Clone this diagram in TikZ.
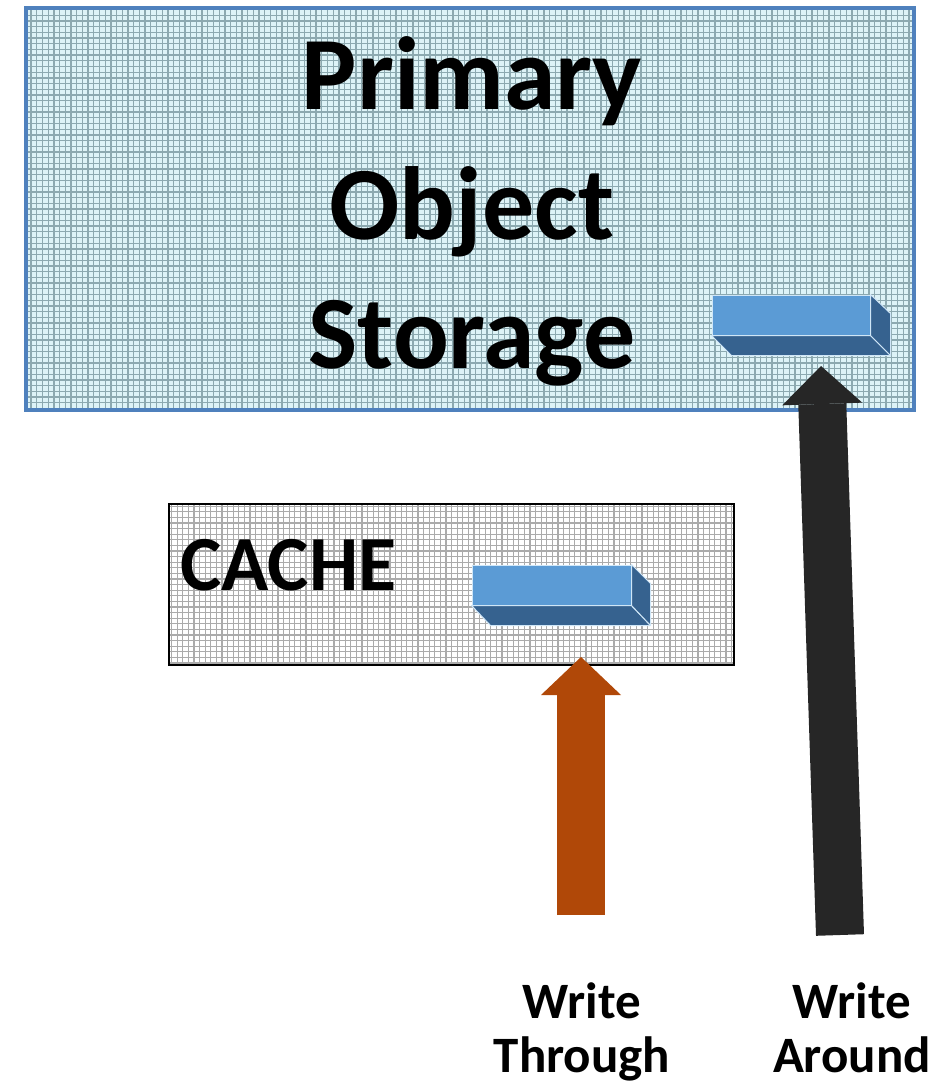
\documentclass[tikz,border=0pt]{standalone}
\usepackage{fontspec}
\setmainfont{Carlito}
\usetikzlibrary{arrows.meta,calc}
\definecolor{storefill}{HTML}{DDF3F7}
\definecolor{storegrid}{HTML}{8CA9B0}
\definecolor{storeborder}{HTML}{4F81BD}
\definecolor{cachegrid}{HTML}{ABABAB}
\definecolor{blkfront}{HTML}{5B9BD5}
\definecolor{blkdark}{HTML}{36628F}
\definecolor{blkedge}{HTML}{CFE6F7}
\definecolor{wtorange}{HTML}{B04808}
\definecolor{wablack}{HTML}{262626}
\begin{document}
\begin{tikzpicture}[x=1pt,y=-1pt,
  storebox/.style={fill=storefill, inner sep=0pt,
    path picture={\draw[storegrid, line width=1.3pt, step=5.7pt]
      (path picture bounding box.south west) grid (path picture bounding box.north east);}},
  cachebox/.style={fill=white, inner sep=0pt,
    path picture={\draw[cachegrid, line width=1.2pt, step=5.6pt]
      (path picture bounding box.south west) grid (path picture bounding box.north east);}},
  blkfrontstyle/.style={fill=blkfront, draw=blkedge, line width=1pt, inner sep=0pt},
  blkface/.style={fill=blkdark, draw=blkedge, line width=1pt, line join=round},
  bigtext/.style={font=\fontsize{104}{129}\selectfont\bfseries, inner sep=0pt, anchor=base},
  cachetext/.style={font=\fontsize{78}{90}\selectfont\bfseries, inner sep=0pt, anchor=base west},
  labeltext/.style={font=\fontsize{51}{54}\selectfont\bfseries, inner sep=0pt, anchor=base},
  blockarrow/.style={line width=48pt, -{Triangle[length=38pt,width=80pt,line width=0pt]}}
]
\useasboundingbox (0,0) rectangle (930,1091);

% primary storage box
\node[storebox, minimum width=888pt, minimum height=402pt] (storage) at (470,209) {};
\draw[storeborder, line width=3.5pt] (storage.north west) rectangle (storage.south east);
\node[bigtext] (title1) at (472,110) {Primary};
\node[bigtext] (title2) at (472,240) {Object};
\node[bigtext] (title3) at (472,368) {Storage};

% cache box
\node[cachebox, minimum width=565pt, minimum height=161pt] (cache) at (451.5,584.5) {};
\draw[black, line width=2pt] (cache.north west) rectangle (cache.south east);
\node[cachetext] (cachelabel) at (180,590) {CACHE};

% 3D blocks
\node[blkfrontstyle, minimum width=158pt, minimum height=40pt] (storeblk) at (791,315) {};
\draw[blkface] (storeblk.south west) -- (storeblk.south east) -- ($(storeblk.south east)+(20,20)$) -- ($(storeblk.south west)+(20,20)$) -- cycle;
\draw[blkface] (storeblk.north east) -- ($(storeblk.north east)+(20,19)$) -- ($(storeblk.south east)+(20,20)$) -- (storeblk.south east) -- cycle;

\node[blkfrontstyle, minimum width=159pt, minimum height=40pt] (cacheblk) at (551.5,585) {};
\draw[blkface] (cacheblk.south west) -- (cacheblk.south east) -- ($(cacheblk.south east)+(19,20)$) -- ($(cacheblk.south west)+(19,20)$) -- cycle;
\draw[blkface] (cacheblk.north east) -- ($(cacheblk.north east)+(19,19)$) -- ($(cacheblk.south east)+(19,20)$) -- (cacheblk.south east) -- cycle;

% arrows
\coordinate (wtfoot) at (581,915);
\coordinate (wttip) at (581,657);
\draw[blockarrow, wtorange] (wtfoot) -- (wttip);
\coordinate (wafoot) at (840,935);
\coordinate (watip) at (821,366);
\draw[blockarrow, wablack] (wafoot) -- (watip);

% labels
\node[labeltext] (wt1) at (582,1018) {Write};
\node[labeltext] (wt2) at (582,1072) {Through};
\node[labeltext] (wa1) at (852,1018) {Write};
\node[labeltext] (wa2) at (852,1072) {Around};
\end{tikzpicture}
\end{document}
